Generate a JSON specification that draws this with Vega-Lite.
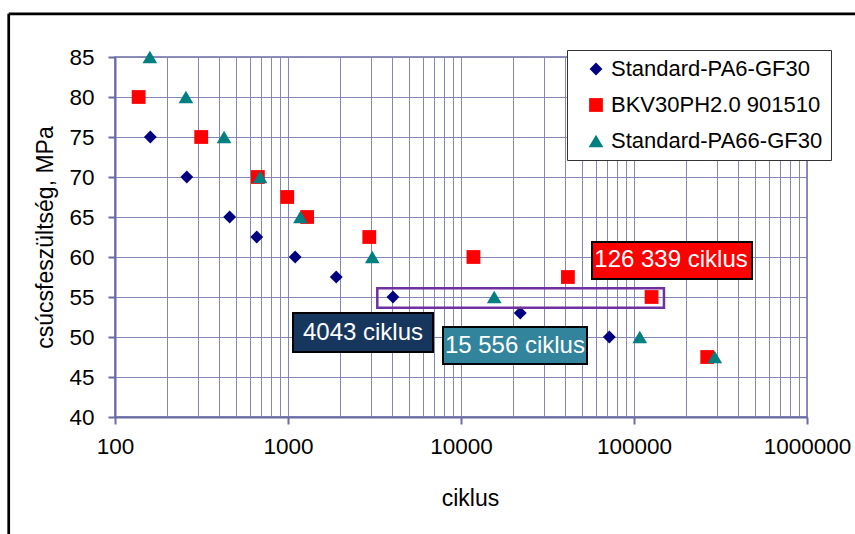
{
  "$schema": "https://vega.github.io/schema/vega-lite/v6.json",
  "width": 692,
  "height": 360,
  "autosize": {"type": "none"},
  "padding": {"left": 115, "top": 57, "right": 48, "bottom": 117},
  "background": "white",
  "config": {
    "font": "Liberation Sans",
    "view": {"stroke": "#6B6BA5", "strokeWidth": 1.5},
    "axis": {
      "labelFontSize": 22.5, "labelColor": "black", "labelFlush": false, "labelOverlap": false,
      "tickSize": 7, "tickWidth": 2, "tickColor": "#6B6BA5",
      "domainColor": "#6B6BA5", "domainWidth": 2,
      "grid": true, "gridColor": "#8686B6", "gridWidth": 1, "gridOpacity": 1,
      "titleFontSize": 23, "titleFontWeight": "normal", "titleColor": "black"
    },
    "axisX": {"labelPadding": 11, "titleX": 355, "titleY": 88, "titleBaseline": "alphabetic", "titleAlign": "center"},
    "axisY": {"labelPadding": 14, "titleX": -63, "titleY": 180, "titleBaseline": "alphabetic", "titleAlign": "center", "titleAngle": -90}
  },
  "layer": [
    {
      "data": {"values": [
        {"n": "Standard-PA6-GF30", "ciklus": 160, "mpa": 75},
        {"n": "Standard-PA6-GF30", "ciklus": 260, "mpa": 70},
        {"n": "Standard-PA6-GF30", "ciklus": 460, "mpa": 65},
        {"n": "Standard-PA6-GF30", "ciklus": 660, "mpa": 62.5},
        {"n": "Standard-PA6-GF30", "ciklus": 1100, "mpa": 60},
        {"n": "Standard-PA6-GF30", "ciklus": 1900, "mpa": 57.5},
        {"n": "Standard-PA6-GF30", "ciklus": 4043, "mpa": 55},
        {"n": "Standard-PA6-GF30", "ciklus": 22000, "mpa": 53},
        {"n": "Standard-PA6-GF30", "ciklus": 72000, "mpa": 50},
        {"n": "BKV30PH2.0 901510", "ciklus": 137, "mpa": 80},
        {"n": "BKV30PH2.0 901510", "ciklus": 315, "mpa": 75},
        {"n": "BKV30PH2.0 901510", "ciklus": 670, "mpa": 70},
        {"n": "BKV30PH2.0 901510", "ciklus": 990, "mpa": 67.5},
        {"n": "BKV30PH2.0 901510", "ciklus": 1290, "mpa": 65},
        {"n": "BKV30PH2.0 901510", "ciklus": 2950, "mpa": 62.5},
        {"n": "BKV30PH2.0 901510", "ciklus": 11800, "mpa": 60},
        {"n": "BKV30PH2.0 901510", "ciklus": 41500, "mpa": 57.5},
        {"n": "BKV30PH2.0 901510", "ciklus": 126339, "mpa": 55},
        {"n": "BKV30PH2.0 901510", "ciklus": 265000, "mpa": 47.5},
        {"n": "Standard-PA66-GF30", "ciklus": 159, "mpa": 85},
        {"n": "Standard-PA66-GF30", "ciklus": 257, "mpa": 80},
        {"n": "Standard-PA66-GF30", "ciklus": 427, "mpa": 75},
        {"n": "Standard-PA66-GF30", "ciklus": 690, "mpa": 70},
        {"n": "Standard-PA66-GF30", "ciklus": 1180, "mpa": 65},
        {"n": "Standard-PA66-GF30", "ciklus": 3070, "mpa": 60},
        {"n": "Standard-PA66-GF30", "ciklus": 15556, "mpa": 55},
        {"n": "Standard-PA66-GF30", "ciklus": 108000, "mpa": 50},
        {"n": "Standard-PA66-GF30", "ciklus": 293000, "mpa": 47.5}
      ]},
      "mark": {"type": "point", "filled": true, "opacity": 1, "strokeWidth": 0, "zindex": 2},
      "encoding": {
        "x": {
          "field": "ciklus", "type": "quantitative",
          "scale": {"type": "log", "domain": [100, 1000000], "nice": false},
          "axis": {
            "title": "ciklus",
            "values": [100,200,300,400,500,600,700,800,900,1000,2000,3000,4000,5000,6000,7000,8000,9000,10000,20000,30000,40000,50000,60000,70000,80000,90000,100000,200000,300000,400000,500000,600000,700000,800000,900000,1000000],
            "labelExpr": "(datum.value == 100 || datum.value == 1000 || datum.value == 10000 || datum.value == 100000 || datum.value == 1000000) ? format(datum.value, 'd') : ''",
            "tickOpacity": {"condition": {"test": "datum.value == 100 || datum.value == 1000 || datum.value == 10000 || datum.value == 100000 || datum.value == 1000000", "value": 1}, "value": 0}
          }
        },
        "y": {
          "field": "mpa", "type": "quantitative",
          "scale": {"domain": [40, 85], "zero": false, "nice": false},
          "axis": {"title": "csúcsfeszültség, MPa", "values": [40,45,50,55,60,65,70,75,80,85]}
        },
        "color": {
          "field": "n", "type": "nominal",
          "scale": {"domain": ["Standard-PA6-GF30", "BKV30PH2.0 901510", "Standard-PA66-GF30"], "range": ["#000080", "#FF0000", "#008080"]},
          "legend": {
            "title": null, "orient": "none", "legendX": 452, "legendY": -7,
            "padding": 8, "symbolOffset": 10, "labelOffset": 4, "rowPadding": 14, "labelLimit": 500,
            "labelFontSize": 22, "labelColor": "black", "symbolSize": 150, "symbolStrokeWidth": 0,
            "strokeColor": "#333333", "fillColor": "white",
            "labelExpr": "datum.label + '\u00a0\u00a0'"
          }
        },
        "shape": {
          "field": "n", "type": "nominal",
          "scale": {"domain": ["Standard-PA6-GF30", "BKV30PH2.0 901510", "Standard-PA66-GF30"], "range": ["diamond", "square", "triangle-up"]},
          "legend": {
            "title": null, "orient": "none", "legendX": 452, "legendY": -7,
            "padding": 8, "symbolOffset": 10, "labelOffset": 4, "rowPadding": 14, "labelLimit": 500,
            "labelFontSize": 22, "labelColor": "black", "symbolSize": 150, "symbolStrokeWidth": 0,
            "strokeColor": "#333333", "fillColor": "white",
            "labelExpr": "datum.label + '\u00a0\u00a0'"
          }
        },
        "size": {
          "field": "n", "type": "nominal",
          "scale": {"domain": ["Standard-PA6-GF30", "BKV30PH2.0 901510", "Standard-PA66-GF30"], "range": [165, 215, 225]},
          "legend": null
        }
      }
    },
    {
      "data": {"values": [
        {"fx": 24.3, "fx2": 24.3, "fy": 90.4, "fy2": 20},
        {"fx": 24.3, "fx2": 10000000, "fy": 90.4, "fy2": 90.4}
      ]},
      "mark": {"type": "rule", "color": "black", "strokeWidth": 2.7, "clip": false},
      "encoding": {
        "x": {"field": "fx", "type": "quantitative",
          "axis": {
            "title": "ciklus",
            "values": [100,200,300,400,500,600,700,800,900,1000,2000,3000,4000,5000,6000,7000,8000,9000,10000,20000,30000,40000,50000,60000,70000,80000,90000,100000,200000,300000,400000,500000,600000,700000,800000,900000,1000000],
            "labelExpr": "(datum.value == 100 || datum.value == 1000 || datum.value == 10000 || datum.value == 100000 || datum.value == 1000000) ? format(datum.value, 'd') : ''",
            "tickOpacity": {"condition": {"test": "datum.value == 100 || datum.value == 1000 || datum.value == 10000 || datum.value == 100000 || datum.value == 1000000", "value": 1}, "value": 0}
          }},
        "x2": {"field": "fx2"},
        "y": {"field": "fy", "type": "quantitative", "axis": {"title": "csúcsfeszültség, MPa", "values": [40,45,50,55,60,65,70,75,80,85]}},
        "y2": {"field": "fy2"}
      }
    },
    {
      "data": {"values": [
        {"box": "a", "bx": 1069, "bx2": 6887, "by": 53, "by2": 48.125},
        {"box": "b", "bx": 7870, "bx2": 53500, "by": 51.25, "by2": 46.625},
        {"box": "c", "bx": 57200, "bx2": 481000, "by": 61.875, "by2": 57.25}
      ]},
      "mark": {"type": "rect", "stroke": "black", "strokeWidth": 2, "opacity": 1},
      "encoding": {
        "x": {"field": "bx", "type": "quantitative",
          "axis": {
            "title": "ciklus",
            "values": [100,200,300,400,500,600,700,800,900,1000,2000,3000,4000,5000,6000,7000,8000,9000,10000,20000,30000,40000,50000,60000,70000,80000,90000,100000,200000,300000,400000,500000,600000,700000,800000,900000,1000000],
            "labelExpr": "(datum.value == 100 || datum.value == 1000 || datum.value == 10000 || datum.value == 100000 || datum.value == 1000000) ? format(datum.value, 'd') : ''",
            "tickOpacity": {"condition": {"test": "datum.value == 100 || datum.value == 1000 || datum.value == 10000 || datum.value == 100000 || datum.value == 1000000", "value": 1}, "value": 0}
          }},
        "x2": {"field": "bx2"},
        "y": {"field": "by", "type": "quantitative", "axis": {"title": "csúcsfeszültség, MPa", "values": [40,45,50,55,60,65,70,75,80,85]}},
        "y2": {"field": "by2"},
        "fill": {"field": "box", "type": "nominal", "scale": {"domain": ["a", "b", "c"], "range": ["#17365D", "#31849B", "#FF0000"]}, "legend": null}
      }
    },
    {
      "data": {"values": [
        {"rx": 3282, "rx2": 149000, "ry": 56.09, "ry2": 53.66}
      ]},
      "mark": {"type": "rect", "fill": null, "fillOpacity": 0, "stroke": "#7030A0", "strokeWidth": 2.5},
      "encoding": {
        "x": {"field": "rx", "type": "quantitative",
          "axis": {
            "title": "ciklus",
            "values": [100,200,300,400,500,600,700,800,900,1000,2000,3000,4000,5000,6000,7000,8000,9000,10000,20000,30000,40000,50000,60000,70000,80000,90000,100000,200000,300000,400000,500000,600000,700000,800000,900000,1000000],
            "labelExpr": "(datum.value == 100 || datum.value == 1000 || datum.value == 10000 || datum.value == 100000 || datum.value == 1000000) ? format(datum.value, 'd') : ''",
            "tickOpacity": {"condition": {"test": "datum.value == 100 || datum.value == 1000 || datum.value == 10000 || datum.value == 100000 || datum.value == 1000000", "value": 1}, "value": 0}
          }},
        "x2": {"field": "rx2"},
        "y": {"field": "ry", "type": "quantitative", "axis": {"title": "csúcsfeszültség, MPa", "values": [40,45,50,55,60,65,70,75,80,85]}},
        "y2": {"field": "ry2"}
      }
    },
    {
      "data": {"values": [
        {"t": "4043 ciklus", "tx": 2714, "ty": 50.5},
        {"t": "15 556 ciklus", "tx": 20500, "ty": 48.9},
        {"t": "126 339 ciklus", "tx": 163700, "ty": 59.6}
      ]},
      "mark": {"type": "text", "color": "white", "fontSize": 24, "align": "center", "baseline": "middle"},
      "encoding": {
        "x": {"field": "tx", "type": "quantitative",
          "axis": {
            "title": "ciklus",
            "values": [100,200,300,400,500,600,700,800,900,1000,2000,3000,4000,5000,6000,7000,8000,9000,10000,20000,30000,40000,50000,60000,70000,80000,90000,100000,200000,300000,400000,500000,600000,700000,800000,900000,1000000],
            "labelExpr": "(datum.value == 100 || datum.value == 1000 || datum.value == 10000 || datum.value == 100000 || datum.value == 1000000) ? format(datum.value, 'd') : ''",
            "tickOpacity": {"condition": {"test": "datum.value == 100 || datum.value == 1000 || datum.value == 10000 || datum.value == 100000 || datum.value == 1000000", "value": 1}, "value": 0}
          }},
        "y": {"field": "ty", "type": "quantitative", "axis": {"title": "csúcsfeszültség, MPa", "values": [40,45,50,55,60,65,70,75,80,85]}},
        "text": {"field": "t"}
      }
    }
  ]
}
